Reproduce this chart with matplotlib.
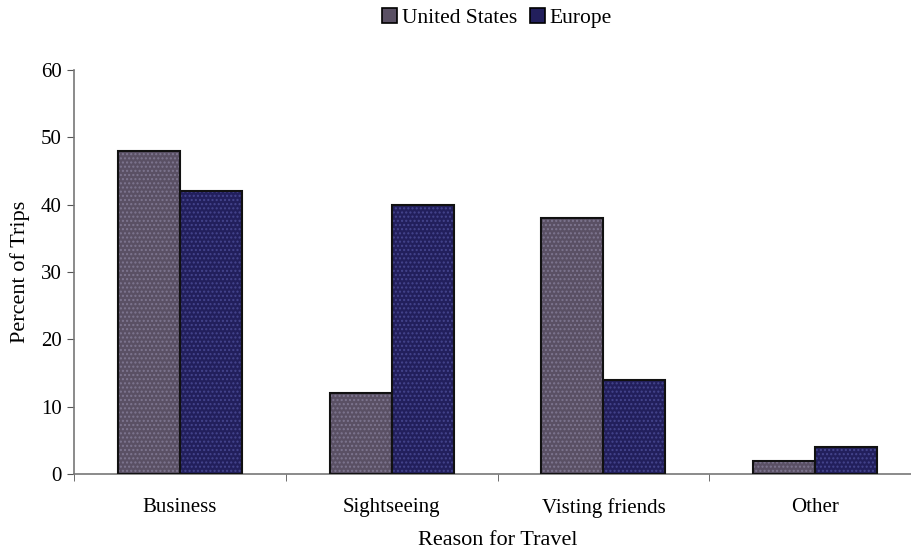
import matplotlib
matplotlib.use("Agg")
import matplotlib.pyplot as plt
import numpy as np
from matplotlib.patches import Patch

categories = ["Business", "Sightseeing", "Visting friends", "Other"]
us_values = [48, 12, 38, 2]
europe_values = [42, 40, 14, 4]
series_names = ["United States", "Europe"]
y_ticks = [0, 10, 20, 30, 40, 50, 60]

plt.rcParams["font.family"] = ["Liberation Serif", "DejaVu Serif"]

W, H = 911, 553
fig = plt.figure(figsize=(W / 100, H / 100), dpi=100)
# axes box in pixel terms: left 74, right 921 (runs past the canvas edge), bottom 474, top 70
ax = fig.add_axes([74 / W, 1 - 474 / H, (921 - 74) / W, (474 - 70) / H])

x = np.arange(len(categories))
bw = 0.293
us_face = "#5a5064"
us_dot = "#7e7690"
eu_face = "#221f5c"
eu_dot = "#45458e"

for vals, off, face, dot in [(us_values, -bw / 2, us_face, us_dot),
                             (europe_values, bw / 2, eu_face, eu_dot)]:
    ax.bar(x + off, vals, bw, color=face, edgecolor=dot, hatch="....",
           linewidth=0, zorder=2)
    ax.bar(x + off, vals, bw, fill=False, edgecolor="#111111",
           linewidth=1.5, zorder=3)

ax.set_xlim(-0.5, len(categories) - 0.5)
ax.set_ylim(0, 60)
ax.set_yticks(y_ticks)
ax.set_xticks(x)
ax.set_xticklabels(categories, fontsize=15)
ax.set_xticks(np.arange(len(categories) + 1) - 0.5, minor=True)
ax.tick_params(axis="x", which="major", length=0, pad=17)
ax.tick_params(axis="x", which="minor", length=5, color="#555555", direction="out")
ax.tick_params(axis="y", length=5, color="#555555", labelsize=15, pad=4)

for s in ["top", "right"]:
    ax.spines[s].set_visible(False)
for s in ["left", "bottom"]:
    ax.spines[s].set_color("#777777")
    ax.spines[s].set_linewidth(1.2)

ax.set_ylabel("Percent of Trips", fontsize=16, labelpad=8)
ax.set_xlabel("Reason for Travel", fontsize=16, labelpad=10)

handles = [Patch(facecolor=us_face, edgecolor="#000000", linewidth=1.2),
           Patch(facecolor=eu_face, edgecolor="#000000", linewidth=1.2)]
fig.legend(handles, series_names, loc="center", bbox_to_anchor=(497 / W, 1 - 18 / H),
           ncol=2, frameon=False, fontsize=15.5, handlelength=0.7, handleheight=0.7,
           handletextpad=0.2, columnspacing=0.6)

fig.savefig("out.png", dpi=100)
